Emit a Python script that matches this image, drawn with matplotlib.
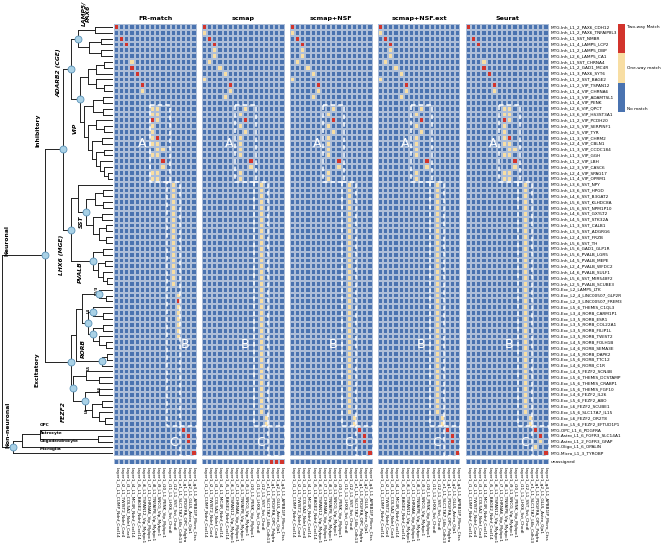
import numpy as np
import matplotlib
matplotlib.use("Agg")
import matplotlib.pyplot as plt
from matplotlib.colors import ListedColormap, BoundaryNorm

W, H = 666, 544
fig = plt.figure(figsize=(W / 100, H / 100), dpi=100)


def ax_px(x, y, w, h):
    return fig.add_axes([x / W, 1 - (y + h) / H, w / W, h / H])


row_labels = [
    "MTG.Inh_L1_2_PAX6_CDH12", "MTG.Inh_L1_2_PAX6_TNFAIP8L3", "MTG.Inh_L1_SST_NMBR",
    "MTG.Inh_L1_4_LAMP5_LCP2", "MTG.Inh_L1_2_LAMP5_DBP", "MTG.Inh_L2_6_LAMP5_CA1",
    "MTG.Inh_L1_SST_CHRNA4", "MTG.Inh_L1_2_GAD1_MC4R", "MTG.Inh_L1_3_PAX6_SYT6",
    "MTG.Inh_L1_2_SST_BAGE2", "MTG.Inh_L1_2_VIP_TSPAN12", "MTG.Inh_L1_4_VIP_CHRNA6",
    "MTG.Inh_L1_3_VIP_ADAMTSL1", "MTG.Inh_L1_4_VIP_PENK", "MTG.Inh_L2_6_VIP_QPCT",
    "MTG.Inh_L3_6_VIP_HS3ST3A1", "MTG.Inh_L1_2_VIP_PCDH20", "MTG.Inh_L2_5_VIP_SERPINF1",
    "MTG.Inh_L2_5_VIP_TYR", "MTG.Inh_L1_3_VIP_CHRM2", "MTG.Inh_L2_4_VIP_CBLN1",
    "MTG.Inh_L1_3_VIP_CCDC184", "MTG.Inh_L1_3_VIP_GGH", "MTG.Inh_L1_2_VIP_LBH",
    "MTG.Inh_L2_3_VIP_CASC6", "MTG.Inh_L2_4_VIP_SPAG17", "MTG.Inh_L1_4_VIP_OPRM1",
    "MTG.Inh_L3_6_SST_NPY", "MTG.Inh_L3_6_SST_HPGD", "MTG.Inh_L4_6_SST_B3GAT2",
    "MTG.Inh_L5_6_SST_KLHDC8A", "MTG.Inh_L5_6_SST_NPM1P10", "MTG.Inh_L4_6_SST_GXYLT2",
    "MTG.Inh_L4_5_SST_STK32A", "MTG.Inh_L1_3_SST_CALB1", "MTG.Inh_L3_5_SST_ADGRG6",
    "MTG.Inh_L2_4_SST_FRZB", "MTG.Inh_L5_6_SST_TH", "MTG.Inh_L5_6_GAD1_GLP1R",
    "MTG.Inh_L5_6_PVALB_LGR5", "MTG.Inh_L4_5_PVALB_MEPE", "MTG.Inh_L2_4_PVALB_WFDC2",
    "MTG.Inh_L4_6_PVALB_SULF1", "MTG.Inh_L5_6_SST_MIR548F2", "MTG.Inh_L2_5_PVALB_SCUBE3",
    "MTG.Exc_L2_LAMP5_LTK", "MTG.Exc_L2_4_LINC00507_GLP2R", "MTG.Exc_L2_3_LINC00507_FREM3",
    "MTG.Exc_L5_6_THEMIS_C1QL3", "MTG.Exc_L3_4_RORB_CARM1P1", "MTG.Exc_L3_5_RORB_ESR1",
    "MTG.Exc_L3_5_RORB_COL22A1", "MTG.Exc_L3_5_RORB_FILIP1L", "MTG.Exc_L3_5_RORB_TWIST2",
    "MTG.Exc_L4_5_RORB_FOLH1B", "MTG.Exc_L4_6_RORB_SEMA3E", "MTG.Exc_L4_5_RORB_DAPK2",
    "MTG.Exc_L5_6_RORB_TTC12", "MTG.Exc_L4_6_RORB_C1R", "MTG.Exc_L4_5_FEZF2_SCN4B",
    "MTG.Exc_L5_6_THEMIS_DCSTAMP", "MTG.Exc_L5_6_THEMIS_CRABP1", "MTG.Exc_L5_6_THEMIS_FGF10",
    "MTG.Exc_L4_6_FEZF2_IL26", "MTG.Exc_L5_6_FEZF2_ABO", "MTG.Exc_L6_FEZF2_SCUBE1",
    "MTG.Exc_L5_6_SLC17A7_IL15", "MTG.Exc_L6_FEZF2_OR2T8", "MTG.Exc_L5_6_FEZF2_EFTUD1P1",
    "MTG.OPC_L1_6_PDGFRA", "MTG.Astro_L1_6_FGFR3_SLC14A1", "MTG.Astro_L1_2_FGFR3_GFAP",
    "MTG.Oligo_L1_6_OPALIN", "MTG.Micro_L1_3_TYROBP",
]

col_labels = [
    "Layer1_i1_L1_CUMP_Ndnf_Cxcl14", "Layer1_i2_L1_TWIST2_Ndnf_Car4",
    "Layer1_i3_L1_COL5A2_Ndnf_Car4", "Layer1_i4_L1_MC4R_Ndnf_Cxcl14",
    "Layer1_i5_L1_BAGE2_Ndnf_Cxcl14", "Layer1_i6_L1_TSPAN12_Vip_Mybpc1",
    "Layer1_i7_L1_CHRNA6_Vip_Mybpc1", "Layer1_i8_L1_TNFAIP8_Vip_Mybpc1",
    "Layer1_i9_L1_SNCG_Vip_Mybpc1", "Layer1_i10_L1_PENK_Vip_Mybpc1",
    "Layer1_i11_L1_LHX6_Sst_Chodl", "Layer1_i12_L1_SST_Sst_Chodl",
    "Layer1_e1_L1_SLC17A7_L6b_Cdh13", "Layer1_g1_L1_PDGFRA_OPC_Pdgfra",
    "Layer1_g2_L1_GLUL_Astro_Gja1", "Layer1_g4_L1_APBB1IP_Micro_Ctss",
]

methods = ["FR-match", "scmap", "scmap+NSF", "scmap+NSF.ext", "Seurat"]

# match per row (16 columns): '.' no match, 'y' one-way, 'r' two-way
fr_match = {
    0: "r...............", 2: ".r..............", 3: "..r.............",
    6: "...y............", 7: "...r............", 8: "....r...........",
    10: ".....r..........", 11: ".....y..........",
    14: ".......yy.......", 15: ".......yy.......", 16: ".......ry.......",
    17: ".......y........", 18: ".......y........", 19: ".......yr.......",
    20: ".......yy.......", 21: "........yy......", 22: ".......yy.......",
    23: ".........r......", 24: ".........y......", 25: ".......yy.......",
    26: ".......yy.......",
    27: "...........y....", 28: "...........y....", 29: "...........y....",
    30: "...........y....", 31: "...........y....", 32: "...........y....",
    33: "...........y....", 34: "...........y....", 35: "...........y....",
    36: "...........y....", 37: "...........y....", 38: "...........y....",
    39: "...........y....", 40: "...........y....", 41: "...........y....",
    42: "...........y....", 43: "...........y....", 44: "...........y....",
    46: "............y...", 47: "............r...", 48: "............y...",
    49: "............y...", 50: "............y...", 51: "............y...",
    52: "............y...", 53: "............y...",
    69: ".............r..", 70: "..............r.", 71: "..............r.",
    73: "...............r",
}
scmap = {
    0: "r...............", 1: "y...............", 2: ".r..............",
    3: "..r.............", 4: "..y.............", 5: "..y.............",
    6: ".y..............", 7: "...y............", 8: "....y...........",
    9: "y...............", 10: ".....r..........", 11: ".....y..........",
    12: "....y...........",
    14: "........y.......", 15: ".......y........", 16: "........r.......",
    17: ".......y........", 18: "........y.......", 19: ".......y........",
    20: ".......y........", 21: ".......y........", 22: ".......y........",
    23: ".........r......", 24: ".........y......", 25: ".......y........",
    26: ".......y........",
    27: "...........y....", 28: "...........y....", 29: "...........y....",
    30: "...........y....", 31: "...........y....", 32: "...........y....",
    33: "...........y....", 34: "...........y....", 35: "...........y....",
    36: "...........y....", 37: "...........y....", 38: "...........y....",
    39: "...........y....", 40: "...........y....", 41: "...........y....",
    42: "...........y....", 43: "...........y....", 44: "...........y....",
    45: "...........y....", 46: "...........y....", 47: "...........y....",
    48: "...........y....", 49: "...........y....", 50: "...........y....",
    51: "...........y....", 52: "...........y....", 53: "...........y....",
    54: "...........y....", 55: "...........y....", 56: "...........y....",
    57: "...........y....", 58: "...........y....", 59: "...........y....",
    60: "...........y....", 61: "...........y....", 62: "...........y....",
    63: "...........y....", 64: "...........y....", 65: "...........y....",
    66: "...........y....", 67: "............y...", 68: "............y...",
}
scmap_nsf = dict(scmap)
scmap_nsf.update({69: ".............r..", 70: "..............r.",
                  71: "..............r.", 73: "...............r"})
scmap_nsf_ext = dict(scmap_nsf)
seurat = dict(fr_match)
seurat.update({k: v for k, v in scmap.items() if k >= 27})
seurat.update({69: ".............r..", 70: "..............r.", 71: "..............y.",
               72: ".............y..", 73: "...............r"})

unassigned_fr = "................"
unassigned_scmap = ".............rrr"
unassigned_nsf = "................"
unassigned_nsf_ext = "................"
unassigned_seurat = "................"

# dashed boxes: (letter, col_start, col_end, row_start, row_end, letter_col, letter_row)
boxes_fr = [("A", 7, 10.8, 13.8, 27, 5.4, 20.5), ("B", 10.2, 12.8, 27, 68.8, 13.85, 54.8),
            ("C", 12.8, 16, 68.8, 74, 11.5, 71.6)]
boxes_sc = [("A", 6.4, 10.5, 13.8, 27, 5.3, 20.5), ("B", 10, 12.8, 27, 68.8, 8.4, 54.8),
            ("C", 12.8, 16, 68.8, 74, 11.3, 71.6)]

panels = [
    (fr_match, unassigned_fr, boxes_fr),
    (scmap, unassigned_scmap, boxes_sc),
    (scmap_nsf, unassigned_nsf, boxes_sc),
    (scmap_nsf_ext, unassigned_nsf_ext, boxes_sc),
    (seurat, unassigned_seurat, boxes_sc),
]

BLUE, YEL, RED = "#4a73b0", "#f8dea3", "#d2342c"
cmap = ListedColormap([BLUE, YEL, RED])
norm = BoundaryNorm([-0.5, 0.5, 1.5, 2.5], 3)
code = {".": 0, "y": 1, "r": 2}

nrow, ncol = len(row_labels), len(col_labels)
TOP, ROWH = 24.0, 5.84
PX0, PW, PITCH = 114.0, 82.5, 88.0
GRID = "#aebfd9"

for i, (name, (mat, unas, boxes)) in enumerate(zip(methods, panels)):
    M = np.zeros((nrow, ncol))
    for r, s in mat.items():
        M[r] = [code[c] for c in s]
    ax = ax_px(PX0 + i * PITCH, TOP, PW, nrow * ROWH)
    ax.pcolormesh(np.arange(ncol + 1), np.arange(nrow + 1), M, cmap=cmap, norm=norm,
                  edgecolors=GRID, linewidth=0.3)
    ax.set_xlim(0, ncol)
    ax.set_ylim(nrow, 0)
    ax.set_xticks([])
    ax.set_yticks([])
    for sp in ax.spines.values():
        sp.set_visible(False)
    ax.set_title(name, fontsize=4.6, fontweight="bold", pad=3)
    for (lab, c0, c1, r0, r1, lc, lr) in boxes:
        ax.plot([c0, c1, c1, c0, c0], [r0, r0, r1, r1, r0], color="white",
                lw=1.1, ls=(0, (3, 2)), clip_on=False)
        ax.text(lc, lr, lab, color="white", fontsize=9, ha="center", va="center")
    if i == len(methods) - 1:
        for r, lab in enumerate(row_labels):
            ax.text(ncol + 0.4, r + 0.5, lab, fontsize=3.1, ha="left", va="center")
    # unassigned strip
    au = ax_px(PX0 + i * PITCH, TOP + nrow * ROWH + 2.5, PW, ROWH)
    U = np.array([[code[c] for c in unas]])
    au.pcolormesh(np.arange(ncol + 1), [0, 1], U, cmap=cmap, norm=norm,
                  edgecolors=GRID, linewidth=0.3)
    au.set_xlim(0, ncol)
    au.set_ylim(1, 0)
    au.set_yticks([])
    au.set_xticks(np.arange(ncol) + 0.5)
    au.set_xticklabels(col_labels, rotation=270, fontsize=3.1)
    au.tick_params(length=0, pad=2)
    for sp in au.spines.values():
        sp.set_visible(False)
    if i == len(methods) - 1:
        au.text(ncol + 0.4, 0.5, "unassigned", fontsize=3.1, ha="left", va="center")

# colour legend
cb = ax_px(618, 24, 7, 88)
cb.imshow(np.array([[2], [1], [0]]), cmap=cmap, norm=norm, aspect="auto",
          extent=[0, 1, 3, 0])
cb.set_xticks([])
cb.set_yticks([])
for sp in cb.spines.values():
    sp.set_visible(False)
cb.text(1.3, 0.05, "Two-way Match", fontsize=3.1, va="top")
cb.text(1.3, 1.5, "One-way match", fontsize=3.1, va="center")
cb.text(1.3, 2.95, "No match", fontsize=3.1, va="bottom")

# ---------------- dendrogram ----------------
LEAF_X = 112.0


def N(x, children, circle=False):
    return {"x": x, "c": children, "o": circle}


lamp5 = N(78, [[0, 1], [[2, 3], [4, 5]]], True)
vip = N(80, [[[[6, 7], 8], [9, [10, 11]]],
             [[[12, 13], [14, 15]], [[16, [17, 18]], [[19, 20], [[21, 22], [23, [24, [25, 26]]]]]]]], True)
adarb2 = N(71, [lamp5, vip], True)
sst = N(86, [[[28, 29], [30, 31]], [[32, 33], [[34, 35], [36, 37]]]], True)
pvalb = N(93, [[38, 39], [[40, 41], [42, [43, 44]]]], True)
lhx6 = N(71, [[27, sst], pvalb], True)
inh = N(63, [adarb2, lhx6], True)
l23 = N(99, [45, [46, 47]], True)
l4 = N(93, [48, [49, 50]], True)
rorb5 = N(93, [[51, 52], [53, [54, 55]]], True)
rorb = N(88, [l4, rorb5], True)
l6a = N(102, [[56, 57], 58], True)
it = N(76, [[l23, rorb], l6a])
l6b = N(85, [[62, 63], [[64, 65], [66, [67, 68]]]], True)
fezf2 = N(73, [[59, [60, 61]], l6b], True)
exc = N(71, [it, fezf2], True)
neuronal = N(45, [inh, exc], True)
glia = N(22, [N(40, [69, N(98, [70, 71])]), 72])
nonneu = N(13, [glia, 73], True)
root = N(2, [neuronal, nonneu])

dax = ax_px(0, TOP, PX0, nrow * ROWH)
dax.set_xlim(0, PX0)
dax.set_ylim(nrow, 0)
dax.axis("off")
circles = []


def depth(n):
    if isinstance(n, int):
        return 0
    ch = n["c"] if isinstance(n, dict) else n
    return 1 + max(depth(c) for c in ch)


def draw(n, px):
    """returns y-position of node n; px = parent x"""
    if isinstance(n, int):
        y = n + 0.5
        dax.plot([px, LEAF_X], [y, y], color="#222222", lw=0.7)
        return y
    if isinstance(n, dict):
        x, ch, circ = n["x"], n["c"], n["o"]
    else:
        d = depth(n)
        x = px + (LEAF_X - px) / (d + 1)
        ch, circ = n, False
    ys = [draw(c, x) for c in ch]
    y = (min(ys) + max(ys)) / 2
    dax.plot([x, x], [min(ys), max(ys)], color="#222222", lw=0.7)
    if px is not None and px < x:
        dax.plot([px, x], [y, y], color="#222222", lw=0.7)
    if circ:
        circles.append((x, y))
    return y


draw(root, 2)
for (x, y) in circles:
    dax.plot(x, y, "o", ms=5, mfc="#a9d1e6", mec="#5b93b8", mew=0.6, zorder=5)


def ry(ypx):
    return (ypx - TOP) / ROWH


lab_kw = dict(rotation=90, ha="center", va="center", fontsize=4.3)
dax.text(86, ry(13), "LAMP5/\nPAX6", fontstyle="italic", fontweight="bold", linespacing=0.9, **lab_kw)
dax.text(59, ry(73), "ADARB2 (CGE)", fontstyle="italic", fontweight="bold", **lab_kw)
dax.text(75, ry(128), "VIP", fontstyle="italic", fontweight="bold", **lab_kw)
dax.text(38, ry(130), "Inhibitory", fontweight="bold", **lab_kw)
dax.text(7, ry(240), "Neuronal", fontweight="bold", **lab_kw)
dax.text(62, ry(255), "LHX6 (MGE)", fontstyle="italic", fontweight="bold", **lab_kw)
dax.text(81, ry(222), "SST", fontstyle="italic", fontweight="bold", **lab_kw)
dax.text(80, ry(272), "PVALB", fontstyle="italic", fontweight="bold", **lab_kw)
dax.text(37, ry(370), "Excitatory", fontweight="bold", **lab_kw)
dax.text(83, ry(348), "RORB", fontstyle="italic", fontweight="bold", **lab_kw)
dax.text(63, ry(412), "FEZF2", fontstyle="italic", fontweight="bold", **lab_kw)
dax.text(8, ry(425), "Non-neuronal", fontweight="bold", **lab_kw)
small = dict(rotation=90, ha="center", va="center", fontsize=2.8, fontweight="bold")
dax.text(97, ry(290), "L2/3", **small)
dax.text(89, ry(310), "L4", **small)
dax.text(89, ry(367), "L5", **small)
dax.text(100, ry(388), "L6", **small)
dax.text(87, ry(410), "L6", **small)
for name, ypx in [("OPC", 427), ("Astrocyte", 435), ("Oligodendrocyte", 443), ("Microglia", 451)]:
    dax.text(40, ry(ypx), name, fontsize=3, fontweight="bold", ha="left", va="bottom")

fig.savefig("out.png", dpi=100)
